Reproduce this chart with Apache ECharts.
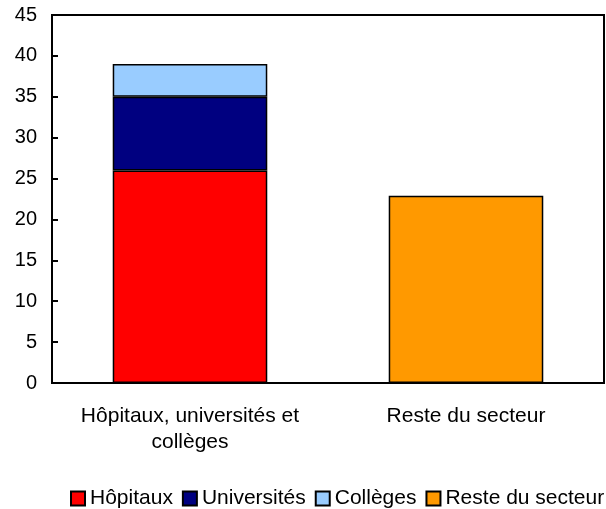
<!DOCTYPE html>
<html>
<head>
<meta charset="utf-8">
<script src="https://cdn.jsdelivr.net/npm/echarts@6/dist/echarts.min.js"></script>
<style>
  html, body { margin: 0; padding: 0; background: #fff; }
  #chart { width: 606px; height: 509px; }
</style>
</head>
<body>
<div id="chart"></div>
<script>
const categories = ["Hôpitaux, universités et\ncollèges", "Reste du secteur"];
const hopitaux = [26, "-"];
const universites = [9, "-"];
const colleges = [4, "-"];
const reste = ["-", 22.9];
const yTicks = { min: 0, max: 45, interval: 5 };

const font = "Arial";

function barSeries(name, data, color) {
  return {
    name: name,
    type: "bar",
    stack: "total",
    barWidth: "56%",
    data: data,
    itemStyle: { color: color, borderColor: "#000", borderWidth: 1.5 },
  };
}

const chart = echarts.init(document.getElementById("chart"), null, { renderer: "canvas" });
chart.setOption({
  animation: false,
  textStyle: { fontFamily: font, color: "#000" },
  grid: {
    left: 52, right: 2, top: 15, bottom: 126,
    show: true, borderColor: "#000", borderWidth: 2,
    containLabel: false, outerBoundsMode: "none",
  },
  xAxis: {
    type: "category",
    data: categories,
    axisLine: { lineStyle: { color: "#000", width: 2 } },
    axisTick: { inside: true, length: 6, lineStyle: { color: "#000", width: 2 } },
    axisLabel: { interval: 0, color: "#000", fontSize: 21, margin: 20, lineHeight: 26, fontFamily: font },
  },
  yAxis: {
    type: "value",
    min: yTicks.min, max: yTicks.max, interval: yTicks.interval,
    splitLine: { show: false },
    axisLine: { show: true, lineStyle: { color: "#000", width: 2 } },
    axisTick: { show: true, inside: true, length: 6, lineStyle: { color: "#000", width: 2 } },
    axisLabel: { color: "#000", fontSize: 20, margin: 15, fontFamily: font },
  },
  legend: {
    top: 483,
    left: 70,
    right: 0,
    padding: [5, 0, 5, 0],
    icon: "rect",
    itemWidth: 14,
    itemHeight: 14,
    itemGap: 9,
    itemStyle: { borderColor: "#000", borderWidth: 2 },
    textStyle: { fontSize: 21, color: "#000", fontFamily: font },
  },
  series: [
    barSeries("Hôpitaux", hopitaux, "#FF0000"),
    barSeries("Universités", universites, "#000080"),
    barSeries("Collèges", colleges, "#99CCFF"),
    barSeries("Reste du secteur", reste, "#FF9900"),
  ],
});
</script>
</body>
</html>
